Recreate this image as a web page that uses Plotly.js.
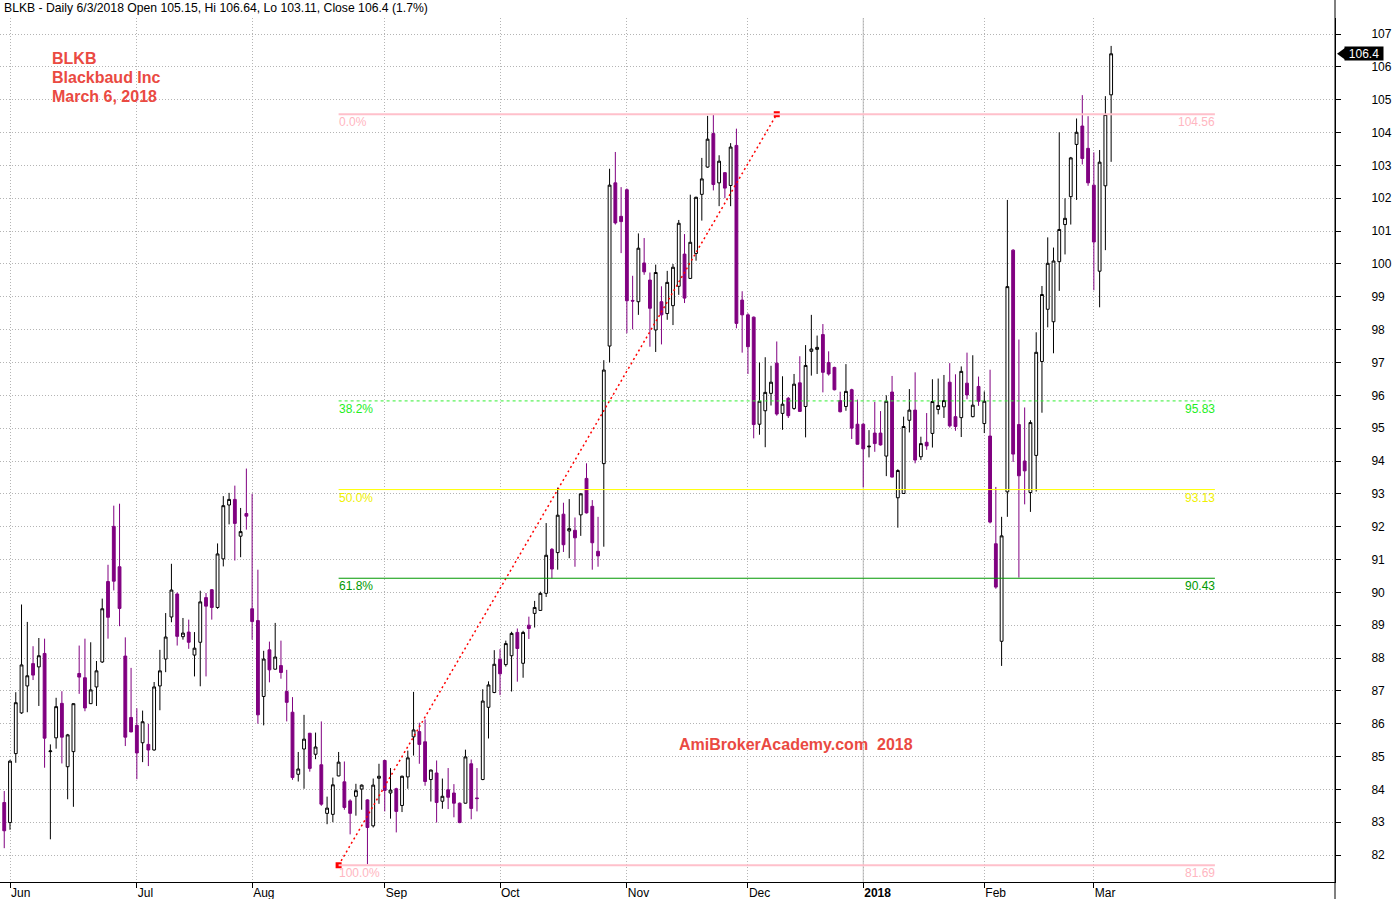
<!DOCTYPE html>
<html><head><meta charset="utf-8">
<script src="https://cdn.plot.ly/plotly-3.0.1.min.js"></script>
<style>html,body{margin:0;padding:0;background:#fff;} #chart{width:1396px;height:899px;}</style>
</head><body><div id="chart"></div>
<script>
// ---- categories: trading days shown on the chart ----
const tradingDays = [
 ['2017-05', [31]],
 ['2017-06', [1,2,5,6,7,8,9,12,13,14,15,16,19,20,21,22,23,26,27,28,29,30]],
 ['2017-07', [3,5,6,7,10,11,12,13,14,17,18,19,20,21,24,25,26,27,28,31]],
 ['2017-08', [1,2,3,4,7,8,9,10,11,14,15,16,17,18,21,22,23,24,25,28,29,30,31]],
 ['2017-09', [1,5,6,7,8,11,12,13,14,15,18,19,20,21,22,25,26,27,28,29]],
 ['2017-10', [2,3,4,5,6,9,10,11,12,13,16,17,18,19,20,23,24,25,26,27,30,31]],
 ['2017-11', [1,2,3,6,7,8,9,10,13,14,15,16,17,20,21,22,24,27,28,29,30]],
 ['2017-12', [1,4,5,6,7,8,11,12,13,14,15,18,19,20,21,22,26,27,28,29]],
 ['2018-01', [2,3,4,5,8,9,10,11,12,16,17,18,19,22,23,24,25,26,29,30,31]],
 ['2018-02', [1,2,5,6,7,8,9,12,13,14,15,16,20,21,22,23,26,27,28]],
 ['2018-03', [1,2,5,6]]
];

// ---- series values ----
const open = [
83.60,
82.99,85.09,86.33,87.15,87.83,87.73,88.14,85.15,85.57,86.62,
84.69,85.15,87.53,87.40,86.61,87.12,87.88,90.33,92.01,90.78,
88.06,86.19,85.95,85.42,85.37,85.20,87.15,87.97,89.25,89.95,
88.65,88.79,88.09,88.48,89.84,90.08,89.54,91.02,92.66,92.83,
91.71,92.40,89.50,89.14,86.83,88.25,87.66,87.77,86.98,86.35,
84.46,85.23,85.71,85.07,84.75,83.27,83.24,84.41,84.23,83.65,
83.79,84.01,83.68,82.89,84.34,84.88,83.89,84.02,83.51,84.38,
85.60,85.76,85.45,84.30,84.50,83.64,83.99,83.89,83.58,83.58,
84.78,83.74,84.30,86.50,86.95,87.96,87.80,88.07,88.78,87.84,
89.00,89.36,89.45,89.97,91.31,91.21,92.38,91.87,91.89,92.36,
93.47,92.62,91.25,93.92,97.50,102.47,101.45,102.26,98.89,98.85,
100.03,99.51,97.99,98.85,98.49,98.73,99.32,100.30,99.56,100.32,
102.12,102.95,103.97,102.47,102.78,102.39,103.61,98.90,98.45,98.38,
95.12,95.53,96.06,96.98,95.45,95.91,95.60,96.38,95.66,97.34,
97.40,97.85,97.00,96.85,95.84,95.66,96.17,95.12,95.12,94.43,
94.85,94.85,94.15,96.10,92.88,93.01,95.24,95.55,94.13,94.57,
94.84,95.57,95.65,96.40,95.35,95.32,96.37,95.35,96.27,95.14,
94.76,91.48,88.51,93.06,100.42,95.11,94.00,93.04,94.17,97.03,
98.62,98.24,100.07,101.20,102.05,103.64,104.20,103.52,102.40,99.78,
102.38,105.15
];
const high = [
83.95,
84.90,86.96,89.63,89.10,88.36,88.61,88.59,85.37,86.79,86.99,
85.69,86.62,88.38,88.59,88.48,87.91,89.81,90.84,92.64,92.70,
88.63,87.70,86.47,86.40,86.00,87.27,88.25,89.37,90.87,90.00,
89.22,89.17,88.79,90.05,89.98,90.10,91.49,92.93,93.03,93.25,
92.57,93.77,93.00,90.69,88.22,88.50,89.07,88.53,87.64,86.81,
85.14,86.27,85.72,85.73,86.07,83.78,84.36,85.14,84.85,83.70,
84.17,84.15,83.70,84.33,84.78,84.90,84.65,84.05,84.42,85.18,
86.97,86.03,86.13,84.60,84.88,84.33,84.65,84.16,83.60,85.21,
84.91,84.65,87.05,87.29,88.24,88.27,88.53,88.80,88.90,88.83,
89.26,89.74,90.02,92.11,91.35,93.19,92.73,92.84,92.28,93.02,
93.93,92.81,92.30,97.07,102.90,103.41,102.34,102.30,99.64,100.93,
100.79,99.74,99.98,99.32,99.79,100.00,101.34,100.91,102.11,102.05,
103.23,104.51,104.55,103.31,102.80,103.68,104.12,99.17,98.50,98.40,
97.00,97.16,96.90,97.64,96.58,95.95,96.65,97.19,97.53,98.45,
97.82,98.17,97.34,96.87,96.11,96.95,96.20,95.87,95.15,94.94,
95.80,95.52,96.00,96.59,93.75,95.35,96.19,96.70,94.74,95.46,
96.49,96.51,96.62,96.98,96.64,96.88,97.30,97.22,96.57,96.12,
96.78,93.21,92.30,101.95,100.45,97.70,95.63,95.24,97.92,99.33,
100.81,100.50,104.01,102.00,103.26,104.43,105.14,104.50,103.40,103.47,
105.11,106.64
];
const low = [
82.21,
82.77,84.81,86.30,86.35,87.33,86.54,84.66,82.48,85.24,84.79,
83.70,83.47,86.91,86.38,86.60,86.54,87.85,88.59,90.06,88.97,
85.32,85.74,84.31,84.83,84.71,85.18,86.41,87.57,89.09,88.38,
88.56,88.28,87.44,87.14,87.44,89.17,89.50,90.79,92.07,90.97,
91.07,91.91,88.56,86.00,85.95,87.26,87.65,87.37,86.07,84.29,
84.24,84.02,84.54,84.92,83.50,82.94,83.00,84.40,83.38,82.63,
83.20,83.38,81.72,82.84,83.56,83.33,83.11,82.69,83.31,84.02,
85.03,84.78,84.11,83.63,82.99,83.41,83.40,83.15,82.97,83.57,
83.09,83.33,84.28,85.55,86.93,86.87,87.74,86.98,87.28,87.40,
88.58,88.93,89.44,89.86,90.42,90.69,91.23,91.04,90.78,91.72,
92.40,90.69,90.78,91.39,97.00,101.20,100.33,97.89,98.01,98.45,
99.67,97.48,97.32,97.55,98.30,98.14,99.06,98.81,99.55,100.10,
101.32,102.93,102.24,101.76,102.00,101.76,98.04,97.30,96.65,94.69,
94.80,94.42,95.69,95.38,94.95,95.31,95.56,95.50,94.72,96.60,
96.65,96.09,96.60,96.15,95.48,95.53,94.67,94.50,93.20,94.11,
94.28,94.47,93.54,93.50,91.97,93.00,94.87,93.93,94.03,94.34,
94.41,95.42,95.31,95.02,94.92,94.73,95.88,95.33,95.68,94.85,
92.10,90.11,87.76,92.30,93.97,90.45,92.68,92.45,93.07,95.47,
98.07,97.28,99.18,100.29,101.20,101.95,103.03,102.38,99.20,98.68,
100.42,103.11
];
const close = [
82.74,
84.86,86.64,87.79,87.46,87.48,88.07,85.56,85.17,86.52,85.59,
85.66,86.61,87.42,86.48,87.03,87.61,89.50,89.24,90.34,89.51,
85.59,85.75,85.11,86.06,85.20,87.12,87.61,88.64,90.07,88.66,
88.76,88.48,88.30,89.71,89.58,89.54,91.17,92.64,92.83,92.10,
91.85,92.32,89.11,86.27,87.97,87.64,88.03,87.56,86.65,84.36,
84.62,85.53,84.64,85.29,83.55,83.43,84.14,84.83,83.45,83.27,
83.96,84.13,82.84,84.13,84.40,83.97,83.98,83.33,84.40,84.96,
85.81,85.37,84.24,84.59,83.60,83.79,83.76,83.58,82.99,84.99,
83.42,83.72,86.69,87.18,87.81,87.52,88.44,88.75,88.29,88.78,
88.90,89.54,89.97,91.13,90.71,92.35,91.45,91.94,91.66,93.00,
92.42,91.51,91.11,96.77,102.40,101.25,101.29,98.88,98.87,100.48,
99.76,98.65,99.74,98.45,99.44,99.90,101.24,98.96,100.66,102.03,
102.59,103.80,102.42,103.13,102.31,103.56,98.19,98.45,97.48,95.11,
95.82,96.09,96.40,95.43,95.73,95.38,96.34,95.51,96.91,97.41,
97.46,96.70,96.65,96.17,95.50,96.12,95.00,94.51,94.37,94.45,
94.53,94.49,95.82,93.51,93.71,95.05,95.55,94.03,94.53,94.46,
95.81,95.69,95.84,95.07,95.05,96.73,96.01,95.70,95.82,95.82,
92.14,90.16,91.72,99.31,94.21,93.55,93.70,95.17,97.31,99.07,
100.02,100.09,101.05,101.39,103.23,104.01,103.21,102.47,100.67,103.10,
104.55,106.40
];

// ---- tick labels ----
const monthTickDates = ['2017-06-01','2017-07-03','2017-08-01','2017-09-01','2017-10-02','2017-11-01','2017-12-01','2018-01-02','2018-02-01','2018-03-01'];
const monthTickLabels = ['Jun','Jul','Aug','Sep','Oct','Nov','Dec','<b>2018</b>','Feb','Mar'];

// ---- Fibonacci retracement ----
const fibLevels = [104.56, 95.83, 93.13, 90.43, 81.69];
const fibLabels = ['0.0%','38.2%','50.0%','61.8%','100.0%'];
const fibAnchorDates = ['2017-08-22','2017-12-08'];

// ---- texts ----
const titleText = 'BLKB - Daily 6/3/2018 Open 105.15, Hi 106.64, Lo 103.11, Close 106.4 (1.7%)';
const noteLines = ['BLKB','Blackbaud Inc','March 6, 2018'];
const watermark = 'AmiBrokerAcademy.com\u00a0\u00a02018';

// ================= build =================
const dates = [];
tradingDays.forEach(([ym, days]) => days.forEach(d => dates.push(ym + '-' + String(d).padStart(2,'0'))));

const FONT = 'Liberation Sans, Arial, sans-serif';
const RED = '#ea4a42';
const fibStyle = [
  {color:'#ffc0cb', width:2, dash:'solid'},
  {color:'#33ee33', width:1, dash:'3px,3px'},
  {color:'#ffff00', width:1, dash:'solid'},
  {color:'#009900', width:1, dash:'solid'},
  {color:'#ffc0cb', width:2, dash:'solid'}
];
const fibTextColor = ['#ffb6c1','#22ee22','#f0f000','#009900','#ffb6c1'];

const last = close.length - 1;
const fibX0 = dates.indexOf(fibAnchorDates[0]);
const fibX1 = last + 18;

const traces = [
  {
    type:'candlestick', x:dates, open:open, high:high, low:low, close:close,
    increasing:{line:{color:'#000000', width:1}, fillcolor:'#ffffff'},
    decreasing:{line:{color:'#800080', width:1}, fillcolor:'#800080'},
    whiskerwidth:0, hoverinfo:'x+y', showlegend:false
  },
  {
    type:'scatter', mode:'lines+markers',
    x:[fibAnchorDates[0], fibAnchorDates[1]], y:[fibLevels[4], fibLevels[0]],
    line:{color:'#ff0000', width:1.5, dash:'2px,3px'},
    marker:{symbol:'square', size:6, color:'#ff0000'},
    showlegend:false, hoverinfo:'skip'
  }
];

const shapes = [];
const annotations = [];
fibLevels.forEach((lv, i) => {
  shapes.push({type:'line', xref:'x', yref:'y', x0:fibX0, x1:fibX1, y0:lv, y1:lv,
    line:{color:fibStyle[i].color, width:fibStyle[i].width, dash:fibStyle[i].dash}, layer:'above'});
  annotations.push({xref:'x', yref:'y', x:fibX0, y:lv, xanchor:'left', yanchor:'top', yshift:1, xshift:-2,
    text:fibLabels[i], showarrow:false, font:{family:FONT, size:12, color:fibTextColor[i]}});
  annotations.push({xref:'x', yref:'y', x:fibX1, y:lv, xanchor:'right', yanchor:'top', yshift:1, xshift:2,
    text:lv.toFixed(2), showarrow:false, font:{family:FONT, size:12, color:fibTextColor[i]}});
});

// solid year-start gridline
shapes.push({type:'line', xref:'x', yref:'paper', x0:dates.indexOf('2018-01-02'), x1:dates.indexOf('2018-01-02'), y0:0, y1:1,
  line:{color:'#bdbdbd', width:1}, layer:'below'});
// right axis extends over full height
shapes.push({type:'line', xref:'paper', yref:'paper', x0:1, x1:1, y0:-0.021, y1:1.022, line:{color:'#000', width:1}, layer:'above'});
// last-price marker arrow
shapes.push({type:'path', xref:'paper', yref:'y', xsizemode:'pixel', ysizemode:'pixel',
  xanchor:1.0015, yanchor:close[last], path:'M0,0 L9,6.5 L9,-6.5 Z', fillcolor:'#000', line:{width:0}, layer:'above'});

annotations.push({xref:'paper', yref:'y', x:1.0217, y:close[last], xanchor:'center', yanchor:'middle',
  text:String(close[last]), showarrow:false, bgcolor:'#000', width:38, height:13, borderpad:0,
  font:{family:FONT, size:12, color:'#fff'}});

annotations.push({xref:'paper', yref:'paper', x:0.0015, y:1.0116, xanchor:'left', yanchor:'middle',
  text:titleText, showarrow:false, font:{family:FONT, size:12.2, color:'#000'}});

const noteY = [0.9537, 0.9317, 0.9097];
noteLines.forEach((t, i) => annotations.push({xref:'paper', yref:'paper', x:0.0375, y:noteY[i], xanchor:'left', yanchor:'middle',
  text:'<b>' + t + '</b>', showarrow:false, font:{family:FONT, size:16, color:RED}}));

annotations.push({xref:'paper', yref:'paper', x:0.5963, y:0.1597, xanchor:'center', yanchor:'middle',
  text:'<b>' + watermark + '</b>', showarrow:false, font:{family:FONT, size:16, color:RED}});

const layout = {
  width:1396, height:899,
  margin:{l:0, r:61, t:18, b:17, pad:0},
  paper_bgcolor:'#fff', plot_bgcolor:'#fff',
  font:{family:FONT, size:12, color:'#000'},
  showlegend:false, hovermode:false, dragmode:false,
  xaxis:{
    type:'category', range:[-0.735, 230.83], autorange:false,
    tickmode:'array', tickvals:monthTickDates, ticktext:monthTickLabels,
    ticks:'outside', ticklen:5, tickcolor:'#000', tickwidth:1,
    ticklabelposition:'outside right',
    showgrid:true, gridcolor:'#b4b4b4', griddash:'1px,2px', gridwidth:1,
    showline:true, linecolor:'#000', linewidth:1, zeroline:false,
    rangeslider:{visible:false}, fixedrange:true,
    tickfont:{family:FONT, size:12, color:'#000'}
  },
  yaxis:{
    side:'right', range:[81.18, 107.49], autorange:false,
    tickmode:'linear', tick0:0, dtick:1,
    ticks:'outside', ticklen:5, tickcolor:'#000', tickwidth:1,
    ticklabelstandoff:28,
    showgrid:true, gridcolor:'#b4b4b4', griddash:'1px,2px', gridwidth:1,
    showline:true, linecolor:'#000', linewidth:1, zeroline:false, fixedrange:true,
    tickfont:{family:FONT, size:12, color:'#000'}
  },
  shapes:shapes,
  annotations:annotations
};

Plotly.newPlot('chart', traces, layout, {displayModeBar:false, staticPlot:true});
</script>
</body></html>
